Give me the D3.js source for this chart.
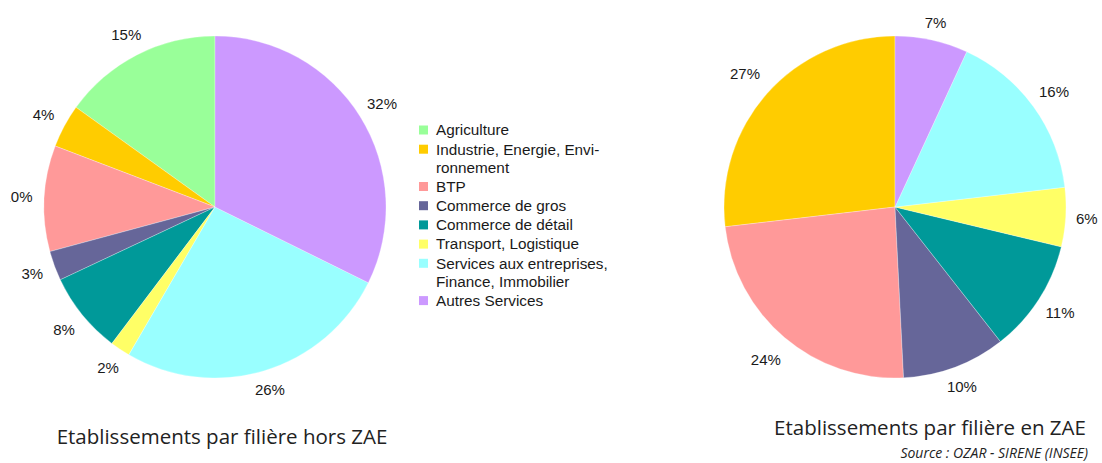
<!DOCTYPE html>
<html>
<head>
<meta charset="utf-8">
<script src="https://cdn.jsdelivr.net/npm/d3@7"></script>
<style>
  body { margin: 0; background: #fff; }
  svg { display: block; }
  .lbl { font-family: "Liberation Sans", Arial, sans-serif; font-size: 15px; fill: #1a1a1a; }
  .leg { font-family: "Liberation Sans", Arial, sans-serif; font-size: 15.3px; fill: #1a1a1a; }
  .title { font-family: "Open Sans", sans-serif; font-size: 20.5px; fill: #222; }
  .src { font-family: "Open Sans", sans-serif; font-size: 14px; font-style: italic; fill: #222; }
</style>
</head>
<body>
<div id="chart"></div>
<script>
// categories (legend order) and their colours
var categories = ["Agriculture", "Industrie, Energie, Environnement", "BTP", "Commerce de gros",
  "Commerce de détail", "Transport, Logistique", "Services aux entreprises, Finance, Immobilier", "Autres Services"];
var legendLines = [["Agriculture"], ["Industrie, Energie, Envi-", "ronnement"], ["BTP"], ["Commerce de gros"],
  ["Commerce de détail"], ["Transport, Logistique"], ["Services aux entreprises,", "Finance, Immobilier"], ["Autres Services"]];
var colors = ["#99ff99", "#ffcc00", "#ff9999", "#666699", "#009999", "#ffff66", "#99ffff", "#cc99ff"];

// share of establishments (%)
var horsZae = [15.1, 4.1, 10.0, 2.8, 7.7, 1.9, 26.1, 32.3];
var enZae   = [0, 26.9, 24.0, 9.8, 10.7, 5.6, 16.3, 6.9];

var titleHors = "Etablissements par filière hors ZAE";
var titleEn = "Etablissements par filière en ZAE";
var sourceText = "Source : OZAR - SIRENE (INSEE)";

var W = 1102, H = 463, R = 171;

var svg = d3.select("#chart").append("svg")
  .attr("width", W).attr("height", H);

// left edge of the original picture was cut
svg.append("defs").append("clipPath").attr("id", "cutLeft")
  .append("rect").attr("x", 10).attr("y", 0).attr("width", W).attr("height", H);

// pies drawn counter-clockwise from 12 o'clock, like the office chart
var pie = d3.pie().sort(null).startAngle(0).endAngle(-2 * Math.PI);
var arc = d3.arc().innerRadius(0).outerRadius(R);

function drawPie(cx, cy, values, clip, leftPad) {
  var outer = svg.append("g");
  if (clip) outer.attr("clip-path", "url(#cutLeft)");
  var g = outer.append("g").attr("transform", "translate(" + cx + "," + cy + ")");
  var arcs = pie(values);

  g.selectAll("path.slice")
    .data(arcs)
    .enter().append("path")
      .attr("class", "slice")
      .attr("d", arc)
      .attr("fill", function (d, i) { return colors[i]; })
      .attr("stroke", "#fff")
      .attr("stroke-width", 0.4)
      .attr("stroke-opacity", 0.7);

  var labels = g.selectAll("text.lbl")
    .data(arcs.filter(function (d) { return d.value > 0; }))
    .enter().append("text")
      .attr("class", "lbl")
      .attr("text-anchor", "middle")
      .attr("dy", "0.36em")
      .text(function (d) { return Math.round(d.value) + "%"; });

  labels.each(function (d) {
    var a = (d.startAngle + d.endAngle) / 2;
    var w = this.getComputedTextLength();
    var h = 11;
    var extra = Math.sin(a) < 0 ? leftPad : 0;
    var dist = R + 10 + extra + Math.abs(Math.sin(a)) * w / 2 + Math.abs(Math.cos(a)) * h / 2;
    d3.select(this)
      .attr("x", Math.sin(a) * dist)
      .attr("y", -Math.cos(a) * dist);
  });
  return g;
}

drawPie(215, 207, horsZae, true, 1.5);
drawPie(895, 207, enZae, false, 5);

// legend
var leg = svg.append("g").attr("transform", "translate(419,130)");
var yy = 0;
legendLines.forEach(function (lines, i) {
  leg.append("rect")
    .attr("x", 0).attr("y", yy - 4.5)
    .attr("width", 9).attr("height", 9)
    .attr("fill", colors[i]);
  lines.forEach(function (t, j) {
    leg.append("text")
      .attr("class", "leg")
      .attr("x", 17).attr("y", yy + j * 18.1)
      .attr("dy", "0.35em")
      .text(t);
  });
  yy += lines.length * 18.1 + 1.1;
});

// titles
svg.append("text").attr("class", "title")
  .attr("x", 222).attr("y", 444).attr("text-anchor", "middle")
  .text(titleHors);
svg.append("text").attr("class", "title")
  .attr("x", 930).attr("y", 435).attr("text-anchor", "middle")
  .text(titleEn);
svg.append("text").attr("class", "src")
  .attr("x", 1088).attr("y", 458).attr("text-anchor", "end")
  .text(sourceText);
</script>
</body>
</html>
